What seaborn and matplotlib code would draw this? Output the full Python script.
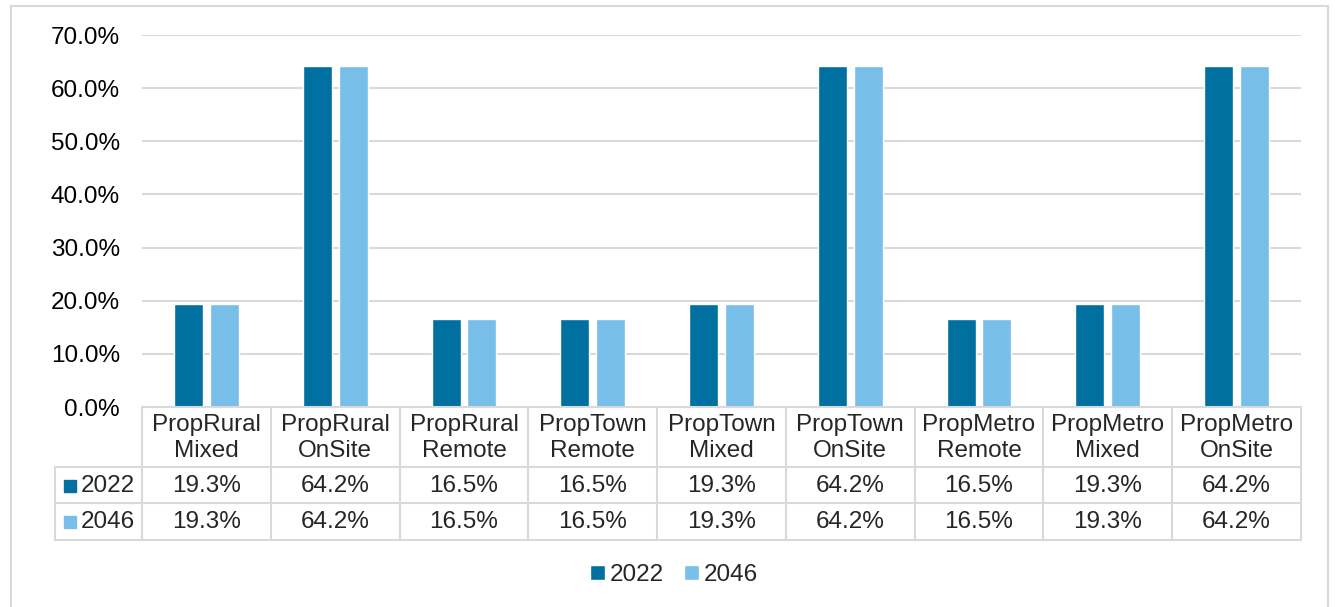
import matplotlib
matplotlib.use("Agg")
import matplotlib.pyplot as plt
import matplotlib.transforms as mtransforms
from matplotlib.patches import Rectangle
from matplotlib.lines import Line2D
import seaborn as sns
import pandas as pd

categories = ["PropRural\nMixed", "PropRural\nOnSite", "PropRural\nRemote",
              "PropTown\nRemote", "PropTown\nMixed", "PropTown\nOnSite",
              "PropMetro\nRemote", "PropMetro\nMixed", "PropMetro\nOnSite"]
years = ["2022", "2046"]
values_2022 = [19.3, 64.2, 16.5, 16.5, 19.3, 64.2, 16.5, 19.3, 64.2]
values_2046 = [19.3, 64.2, 16.5, 16.5, 19.3, 64.2, 16.5, 19.3, 64.2]
colors = ["#0070A0", "#77BEE9"]

W, H = 1335, 607
FS = 17.5
GRID = "#D9D9D9"


def fx(px):
    return px / W


def fy(py):
    return 1 - py / H


df = pd.DataFrame({
    "category": categories * 2,
    "year": [years[0]] * len(categories) + [years[1]] * len(categories),
    "value": values_2022 + values_2046,
})

sns.set_theme(style="white")
plt.rcParams["font.family"] = ["Liberation Sans", "DejaVu Sans"]

fig = plt.figure(figsize=(W / 100, H / 100), dpi=100)
ax = fig.add_axes([fx(142), fy(407), fx(1301) - fx(142), fy(35) - fy(407)])

sns.barplot(data=df, x="category", y="value", hue="year", order=categories,
            hue_order=years, palette=colors, saturation=1, errorbar=None,
            width=0.556, gap=0.19, ax=ax)

ax.set_xlim(-0.5, len(categories) - 0.5)
ax.set_ylim(0, 70)
ax.set_yticks(range(0, 71, 10))
ax.set_yticklabels([f"{v:.1f}%" for v in range(0, 71, 10)], fontsize=FS, color="black")
ax.set_xticks([])
ax.set_xlabel("")
ax.set_ylabel("")
ax.tick_params(axis="y", length=0, pad=16)
ax.yaxis.grid(True, color=GRID, lw=1.5)
ax.set_axisbelow(True)
for s in ax.spines.values():
    s.set_visible(False)

handles, labels = ax.get_legend_handles_labels()
ax.get_legend().remove()

# data table under the axis
trans = mtransforms.blended_transform_factory(ax.transData, fig.transFigure)
for i in range(len(categories) + 1):
    fig.add_artist(Line2D([i - 0.5, i - 0.5], [fy(407), fy(540)], transform=trans,
                          color=GRID, lw=1.5))
fig.add_artist(Line2D([fx(142), fx(1301)], [fy(407), fy(407)],
                      transform=fig.transFigure, color=GRID, lw=1.5))
for y in [467, 503, 540]:
    fig.add_artist(Line2D([fx(55), fx(1301)], [fy(y), fy(y)],
                          transform=fig.transFigure, color=GRID, lw=1.5))
fig.add_artist(Line2D([fx(55), fx(55)], [fy(467), fy(540)],
                      transform=fig.transFigure, color=GRID, lw=1.5))

for i, cat in enumerate(categories):
    fig.text(i, fy(438), cat, transform=trans, ha="center", va="center",
             fontsize=FS, linespacing=1.22)
    fig.text(i, fy(486), f"{values_2022[i]:.1f}%", transform=trans,
             ha="center", va="center", fontsize=FS)
    fig.text(i, fy(522), f"{values_2046[i]:.1f}%", transform=trans,
             ha="center", va="center", fontsize=FS)

for year, color, yc in zip(years, colors, [486, 522]):
    fig.add_artist(Rectangle((fx(64), fy(yc + 6)), fx(12), fy(0) - fy(12),
                             transform=fig.transFigure, color=color))
    fig.text(fx(81), fy(yc), year, ha="left", va="center", fontsize=FS)

fig.legend(handles, labels, loc="center", bbox_to_anchor=(fx(674), fy(575)),
           ncol=2, frameon=False, fontsize=FS, handlelength=0.62,
           handleheight=0.62, handletextpad=0.2, columnspacing=0.8)

# chart border
fig.add_artist(Rectangle((fx(11), fy(650)), fx(1317), fy(6) - fy(650),
                         transform=fig.transFigure, fill=False,
                         edgecolor=GRID, lw=1.5))

fig.savefig("out.png", dpi=100, facecolor="white")
